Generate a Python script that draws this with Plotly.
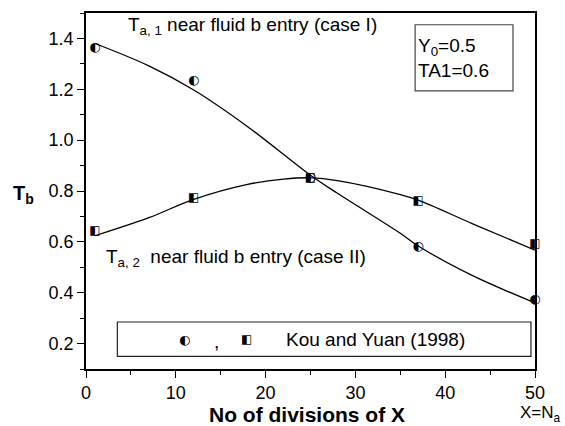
import plotly.graph_objects as go

# Data
x_pts = [1, 12, 25, 37, 50]
tb_case1_pts = [1.363, 1.233, 0.853, 0.582, 0.374]
tb_case2_pts = [0.643, 0.771, 0.850, 0.762, 0.593]

x_curve1 = [1, 7, 12, 18, 25, 28, 35, 37, 43, 50]
tb_curve1 = [1.38, 1.292, 1.197, 1.053, 0.862, 0.791, 0.634, 0.584, 0.468, 0.360]
x_curve2 = [1, 7, 12, 18, 22, 25, 28, 35, 37, 43, 50]
tb_curve2 = [0.624, 0.695, 0.767, 0.826, 0.847, 0.852, 0.841, 0.786, 0.764, 0.672, 0.567]

x_ticks = [0, 10, 20, 30, 40, 50]
y_ticks = [0.2, 0.4, 0.6, 0.8, 1.0, 1.2, 1.4]

FONT = "Arial, Liberation Sans, sans-serif"
GLYPH_FONT = "DejaVu Sans"

fig = go.Figure()
fig.add_trace(go.Scatter(x=x_curve1, y=tb_curve1, mode="lines",
                         line=dict(color="black", width=1.3, shape="spline", smoothing=1.0),
                         showlegend=False, hoverinfo="skip"))
fig.add_trace(go.Scatter(x=x_curve2, y=tb_curve2, mode="lines",
                         line=dict(color="black", width=1.3, shape="spline", smoothing=1.0),
                         showlegend=False, hoverinfo="skip"))
fig.add_trace(go.Scatter(x=x_pts, y=tb_case1_pts, mode="text", text=["◐"] * len(x_pts),
                         textposition="middle center",
                         textfont=dict(family=GLYPH_FONT, size=13, color="black"),
                         showlegend=False, cliponaxis=False))
fig.add_trace(go.Scatter(x=x_pts, y=tb_case2_pts, mode="text", text=["◧"] * len(x_pts),
                         textposition="middle center",
                         textfont=dict(family=GLYPH_FONT, size=12, color="black"),
                         showlegend=False, cliponaxis=False))

axis_common = dict(showgrid=False, zeroline=False, showline=True, linecolor="black",
                   linewidth=1.5, mirror=True, ticks="outside", ticklen=7, tickwidth=1.3,
                   tickcolor="black", tickfont=dict(family=FONT, size=18, color="black"))

fig.update_xaxes(range=[0, 50], tickvals=x_ticks, ticktext=[str(v) for v in x_ticks],
                 minor=dict(ticks="outside", ticklen=4, tickwidth=1.3, tickcolor="black", dtick=5),
                 **axis_common)
fig.update_yaxes(range=[0.1, 1.5], tickvals=y_ticks, ticktext=[f"{v:.1f}" for v in y_ticks],
                 minor=dict(ticks="outside", ticklen=4, tickwidth=1.3, tickcolor="black", dtick=0.1,
                            tick0=0.1),
                 **axis_common)

ann = []
ann.append(dict(text="<b>No of divisions of X</b>", xref="paper", yref="paper", x=0.493, y=-0.128,
                xanchor="center", yanchor="middle", showarrow=False,
                font=dict(family=FONT, size=21, color="black")))
ann.append(dict(text="X=N<sub>a</sub>", xref="paper", yref="paper", x=1.062, y=-0.127,
                xanchor="right", yanchor="middle", showarrow=False,
                font=dict(family=FONT, size=17, color="black")))
ann.append(dict(text="<b>T<sub>b</sub></b>", xref="paper", yref="paper", x=-0.14, y=0.49,
                xanchor="center", yanchor="middle", showarrow=False,
                font=dict(family=FONT, size=20, color="black")))
ann.append(dict(text="T<sub>a, 1</sub> near fluid b entry (case I)", xref="paper", yref="paper",
                x=0.088, y=0.963, xanchor="left", yanchor="middle", showarrow=False,
                font=dict(family=FONT, size=19, color="black")))
ann.append(dict(text="T<sub>a, 2</sub>  near fluid b entry (case II)", xref="paper", yref="paper",
                x=0.04, y=0.313, xanchor="left", yanchor="middle", showarrow=False,
                font=dict(family=FONT, size=19, color="black")))
ann.append(dict(text="Y<sub>0</sub>=0.5<br>TA1=0.6", xref="paper", yref="paper",
                x=0.736, y=0.874, xanchor="left", yanchor="middle", align="left", showarrow=False,
                font=dict(family=FONT, size=19, color="black")))
ann.append(dict(text="◐", xref="paper", yref="paper", x=0.22, y=0.084,
                xanchor="center", yanchor="middle", showarrow=False,
                font=dict(family=GLYPH_FONT, size=13, color="black")))
ann.append(dict(text=",", xref="paper", yref="paper", x=0.29, y=0.078,
                xanchor="center", yanchor="middle", showarrow=False,
                font=dict(family=FONT, size=19, color="black")))
ann.append(dict(text="◧", xref="paper", yref="paper", x=0.357, y=0.084,
                xanchor="center", yanchor="middle", showarrow=False,
                font=dict(family=GLYPH_FONT, size=12, color="black")))
ann.append(dict(text="Kou and Yuan (1998)", xref="paper", yref="paper", x=0.44, y=0.084,
                xanchor="left", yanchor="middle", showarrow=False,
                font=dict(family=FONT, size=19, color="black")))

shapes = [
    dict(type="rect", xref="paper", yref="paper", x0=0.0698, x1=0.991, y0=0.0355, y1=0.132,
         line=dict(color="#222222", width=1.2), fillcolor="rgba(0,0,0,0)"),
    dict(type="rect", xref="paper", yref="paper", x0=0.733, x1=0.951, y0=0.781, y1=0.967,
         line=dict(color="#444444", width=1.2), fillcolor="rgba(0,0,0,0)"),
]

fig.update_layout(width=565, height=426, margin=dict(l=86, r=30, t=11, b=57),
                  plot_bgcolor="white", paper_bgcolor="white", showlegend=False,
                  annotations=ann, shapes=shapes,
                  font=dict(family=FONT, color="black"))

fig.write_html("out.html")
